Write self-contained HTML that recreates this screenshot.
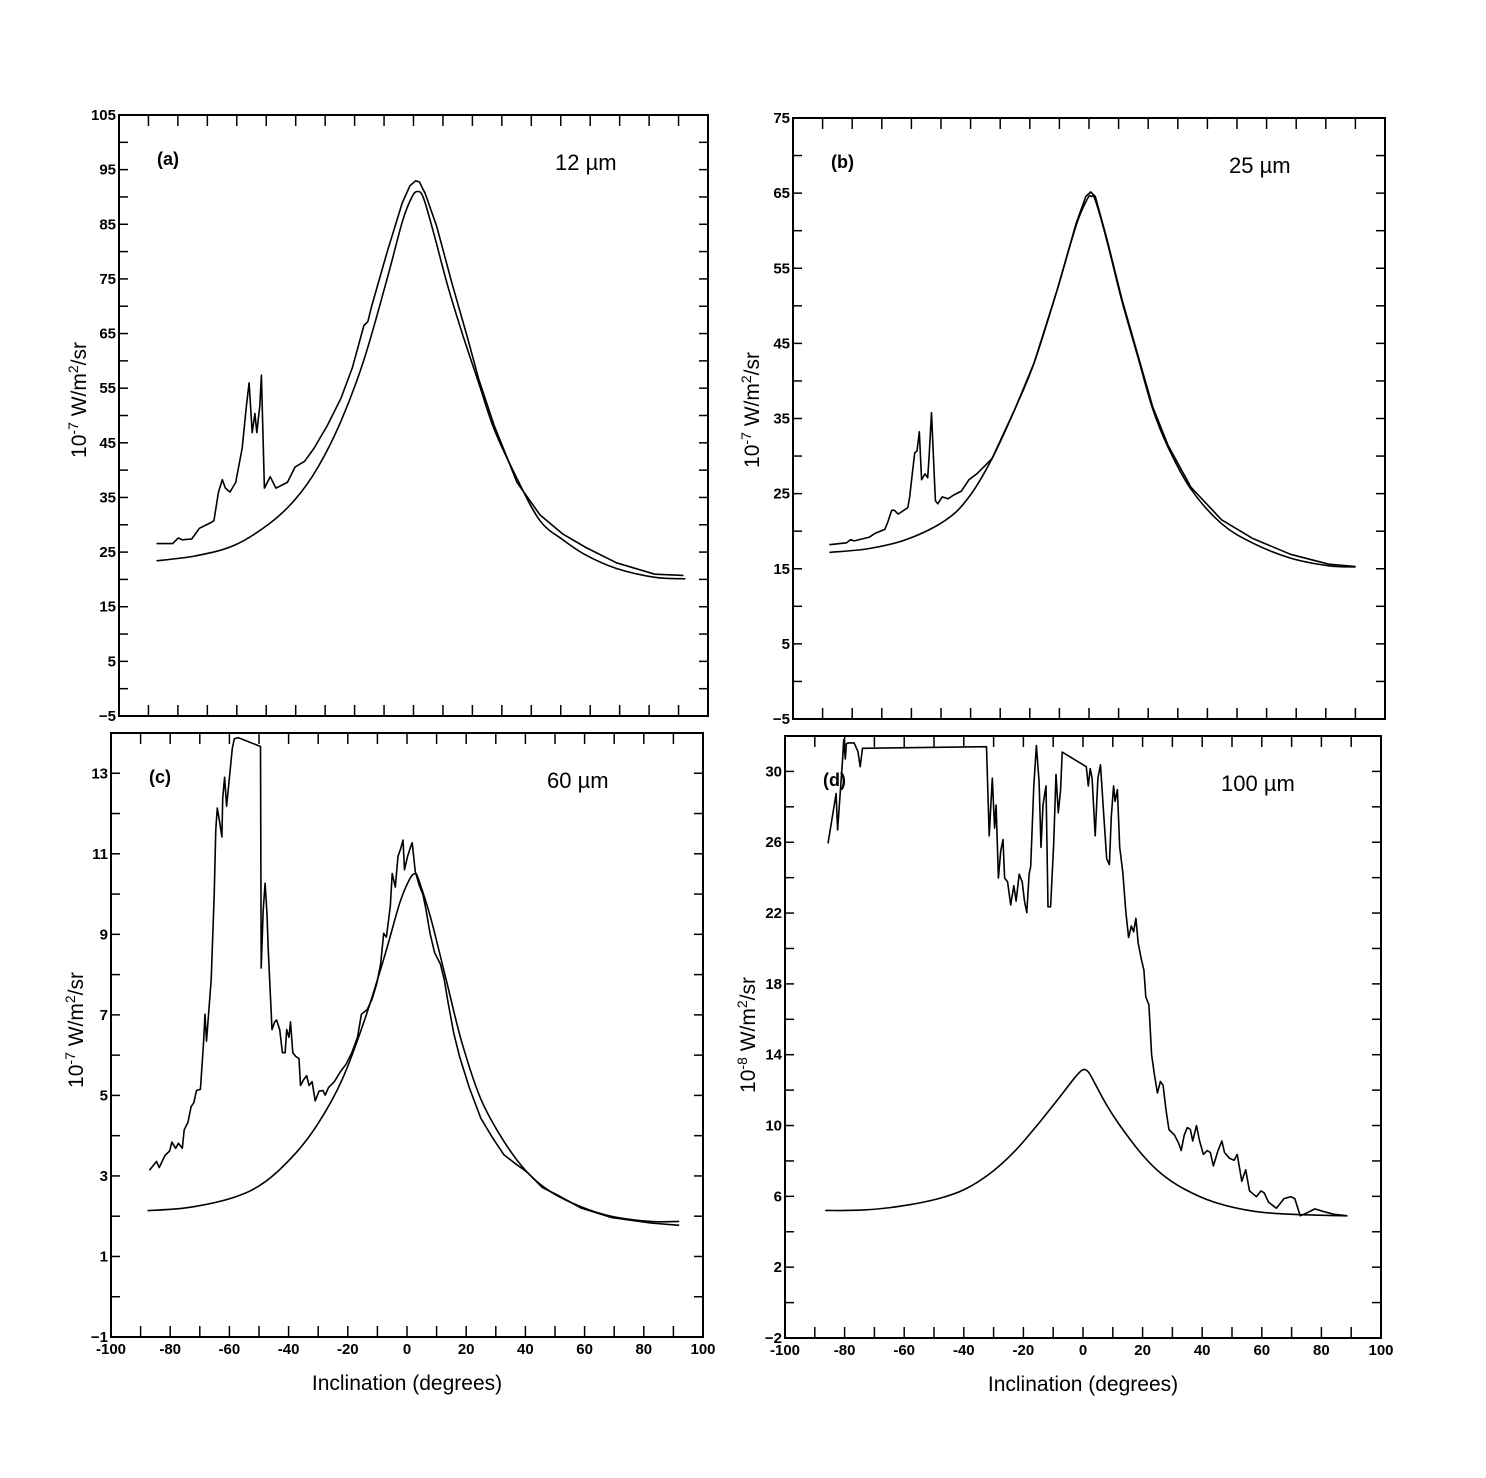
<!DOCTYPE html>
<html><head><meta charset="utf-8"><style>
html,body{margin:0;padding:0;background:#fff;}
svg{display:block;}
text{font-family:"Liberation Sans",Arial,sans-serif;fill:#000;}
.tl{font-size:15px;font-weight:bold;}
.pl{font-size:18px;font-weight:bold;}
.wl{font-size:22px;}
.at{font-size:21px;}
.c{fill:none;stroke:#000;stroke-width:1.6;stroke-linejoin:round;}
</style></head><body>
<svg id="s" width="1486" height="1478" viewBox="0 0 1486 1478" xmlns="http://www.w3.org/2000/svg">
<g id="axes" stroke="#000" fill="none" stroke-width="2"></g>
<g id="curves"></g>
<g id="labels"></g>
</svg>
<script>
var NS="http://www.w3.org/2000/svg";
function el(t,a,p,txt){var e=document.createElementNS(NS,t);for(var k in a)e.setAttribute(k,a[k]);if(txt!==undefined)e.textContent=txt;document.getElementById(p).appendChild(e);return e;}
var panels=[
 {L:119,R:708,T:115,B:716,y0:-5,y1:105,lab:10,tick:5,xl:false,name:"(a)",wl:"12 µm",exp:"-7",ylt:[79,400],zx:119,zy:115,s:2.613},
 {L:793,R:1385,T:118,B:719,y0:-5,y1:75,lab:10,tick:5,xl:false,name:"(b)",wl:"25 µm",exp:"-7",ylt:[752,410],zx:793,zy:118,s:2.613},
 {L:111,R:703,T:733,B:1337,y0:-1,y1:14,lab:2,tick:1,xl:true,name:"(c)",wl:"60 µm",exp:"-7",ylt:[76,1030],zx:111,zy:733,s:2.596,lab0:-1},
 {L:785,R:1381,T:736,B:1338,y0:-2,y1:32,lab:4,tick:2,xl:true,name:"(d)",wl:"100 µm",exp:"-8",ylt:[748,1035],zx:785,zy:736,s:2.605,lab0:-2}
];
panels.forEach(function(p){
 el("rect",{x:p.L,y:p.T,width:p.R-p.L,height:p.B-p.T},"axes");
 var sx=(p.R-p.L)/200, sy=(p.B-p.T)/(p.y1-p.y0);
 for(var d=-90;d<=90;d+=10){var x=p.L+(d+100)*sx;
  el("line",{x1:x,y1:p.B,x2:x,y2:p.B-11,"stroke-width":1.5},"axes");
  el("line",{x1:x,y1:p.T,x2:x,y2:p.T+11,"stroke-width":1.5},"axes");}
 for(var v=p.y0+p.tick;v<p.y1-0.01;v+=p.tick){var y=p.B-(v-p.y0)*sy;
  el("line",{x1:p.L,y1:y,x2:p.L+9,y2:y,"stroke-width":1.5},"axes");
  el("line",{x1:p.R,y1:y,x2:p.R-9,y2:y,"stroke-width":1.5},"axes");}
 var st=p.lab0!==undefined?p.lab0:p.y0;
 for(var v=st;v<=p.y1+0.01;v+=p.lab){var y=p.B-(v-p.y0)*sy;
  el("text",{x:p.L-3,y:y+5,"text-anchor":"end","class":"tl"},"labels",(v<0?"−":"")+Math.abs(v));}
 if(p.xl){for(var d=-100;d<=100;d+=20){var x=p.L+(d+100)*sx;
  el("text",{x:x,y:p.B+17,"text-anchor":"middle","class":"tl"},"labels",(d<0?"-":"")+Math.abs(d));}
  el("text",{x:(p.L+p.R)/2,y:p.B+53,"text-anchor":"middle","class":"at"},"labels","Inclination (degrees)");}
 el("text",{x:p.L+38,y:p.T+50,"class":"pl"},"labels",p.name);
 el("text",{x:p.L+436,y:p.T+55,"class":"wl"},"labels",p.wl);
 var t=el("text",{x:0,y:0,"class":"at","text-anchor":"middle",transform:"translate("+(p.ylt[0]+7)+","+p.ylt[1]+") rotate(-90)"},"labels");
 t.innerHTML='10<tspan dy="-8" font-size="14">'+p.exp+'</tspan><tspan dy="8"> W/m</tspan><tspan dy="-8" font-size="14">2</tspan><tspan dy="8">/sr</tspan>';
});
var C=[
[0,[98,1165,200,1152,300,1125,390,1070,460,1005,520,920,580,800,640,640,700,430,740,280,765,215,780,200,795,215,820,300,860,450,900,580,940,700,980,820,1040,950,1100,1060,1160,1110,1220,1150,1300,1185,1400,1208,1480,1212],1],
[0,[98,1120,140,1120,155,1105,165,1110,190,1108,210,1080,240,1065,248,1060,260,985,270,953,278,975,290,985,305,960,322,870,333,760,340,700,348,830,355,780,360,830,368,760,372,680,380,975,395,945,410,975,440,960,460,920,485,905,510,870,545,810,580,740,610,660,640,550,650,540,660,500,700,360,740,230,760,185,775,172,785,175,800,205,830,290,870,440,910,580,940,690,980,810,1040,960,1100,1045,1160,1095,1220,1130,1300,1170,1400,1200,1475,1203]],
[1,[95,1135,200,1125,300,1100,400,1050,460,990,520,890,580,760,630,640,690,450,740,280,770,210,780,205,790,215,820,320,860,480,900,620,940,760,980,860,1040,970,1120,1060,1200,1110,1300,1150,1400,1170,1470,1173],1],
[1,[95,1115,140,1110,150,1102,160,1105,200,1095,215,1085,240,1075,248,1055,258,1025,265,1025,275,1035,300,1018,305,990,310,945,318,875,324,870,330,820,336,945,345,930,352,940,356,880,362,770,367,890,372,1000,378,1008,390,990,405,995,420,985,440,975,460,945,480,930,500,910,520,890,580,760,630,640,690,450,740,275,765,205,778,193,790,205,820,315,860,475,900,615,940,755,980,855,1040,965,1120,1050,1200,1098,1300,1140,1400,1166,1470,1172]],
[2,[95,1240,200,1232,320,1205,400,1165,480,1090,540,1010,600,900,660,740,710,580,750,440,775,380,790,365,800,385,830,480,870,640,910,800,960,950,1020,1060,1080,1140,1140,1190,1220,1230,1300,1255,1400,1268,1475,1268],1],
[2,[100,1135,118,1112,125,1128,140,1097,152,1085,158,1062,168,1078,175,1065,185,1078,190,1030,200,1010,208,970,215,960,222,928,232,925,240,810,244,730,248,800,260,640,268,420,272,250,276,195,282,230,288,270,290,170,295,115,300,190,305,140,310,90,315,40,320,15,330,12,388,35,390,610,395,460,400,390,405,470,408,560,418,770,425,750,430,745,438,770,445,830,452,830,456,770,462,790,466,750,472,830,480,840,488,845,492,915,500,900,508,890,514,915,522,905,530,955,540,930,550,928,556,940,565,920,580,905,595,880,610,860,625,830,640,790,650,730,665,718,678,690,690,650,700,600,708,520,715,530,725,450,730,365,738,400,745,320,752,300,758,278,762,355,770,320,778,295,782,285,790,360,800,395,810,420,818,460,828,520,840,570,855,600,865,640,875,700,890,780,905,840,930,920,960,1000,990,1050,1020,1095,1050,1118,1080,1140,1120,1180,1160,1200,1220,1233,1300,1258,1400,1272,1475,1278]],
[3,[105,1236,200,1235,300,1225,400,1205,470,1180,540,1135,600,1080,660,1010,720,935,755,890,775,870,790,875,810,910,840,965,880,1025,930,1090,980,1140,1040,1180,1120,1215,1220,1238,1320,1246,1465,1250],1],
[3,[112,280,125,200,133,150,137,245,145,130,150,60,153,10,157,60,160,20,165,18,180,18,190,40,196,80,202,32,525,28,532,260,540,110,546,240,550,180,556,370,562,300,568,270,572,370,580,380,588,440,596,390,602,430,610,360,618,380,624,430,630,460,636,360,640,340,648,130,655,25,662,120,667,290,672,180,680,130,685,445,692,445,700,280,706,100,712,200,718,140,722,42,785,80,790,130,795,85,800,110,808,260,815,110,822,75,830,200,838,320,845,335,850,210,856,130,860,170,866,140,872,290,880,355,888,460,895,525,902,495,908,510,914,475,920,540,928,580,935,610,940,680,948,700,955,830,962,880,970,930,978,900,985,910,992,970,1000,1025,1015,1040,1025,1060,1032,1080,1040,1040,1048,1020,1056,1025,1062,1055,1072,1015,1080,1055,1090,1090,1100,1080,1108,1085,1116,1120,1128,1080,1138,1055,1145,1085,1158,1100,1170,1105,1178,1090,1190,1160,1200,1130,1210,1185,1228,1200,1240,1185,1248,1190,1260,1215,1280,1230,1300,1205,1318,1200,1328,1205,1342,1250,1360,1242,1380,1232,1400,1238,1430,1246,1465,1250]]
];
C.forEach(function(c){var p=panels[c[0]],a=c[1],P=[];
 for(var i=0;i<a.length;i+=2)P.push([p.zx+a[i]/p.s,p.zy+a[i+1]/p.s]);
 var d="M"+P[0][0].toFixed(1)+","+P[0][1].toFixed(1);
 if(c[2]){for(var i=0;i<P.length-1;i++){var p0=P[Math.max(0,i-1)],p1=P[i],p2=P[i+1],p3=P[Math.min(P.length-1,i+2)];
   d+=" C"+(p1[0]+(p2[0]-p0[0])/6).toFixed(1)+","+(p1[1]+(p2[1]-p0[1])/6).toFixed(1)+" "+(p2[0]-(p3[0]-p1[0])/6).toFixed(1)+","+(p2[1]-(p3[1]-p1[1])/6).toFixed(1)+" "+p2[0].toFixed(1)+","+p2[1].toFixed(1);}}
 else{for(var i=1;i<P.length;i++)d+=" L"+P[i][0].toFixed(1)+","+P[i][1].toFixed(1);}
 el("path",{d:d,"class":"c"},"curves");});
</script>
</body></html>
